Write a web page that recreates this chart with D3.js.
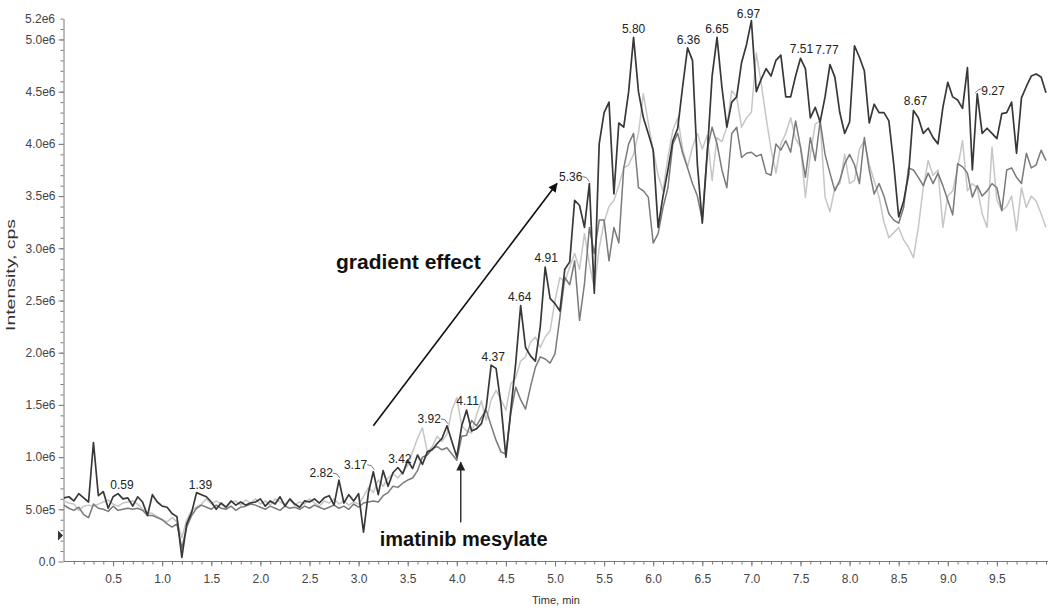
<!DOCTYPE html>
<html>
<head>
<meta charset="utf-8">
<script src="https://cdn.jsdelivr.net/npm/d3@7"></script>
<style>
  body { margin: 0; background: #fff; }
  svg { display: block; font-family: "Liberation Sans", Arial, sans-serif; }
</style>
</head>
<body>
<svg id="chart" width="1050" height="610"></svg>
<script>
// retention time, min
const times = [
  0.00,0.05,0.10,0.15,0.20,0.25,0.30,0.35,0.40,0.45,0.50,0.55,0.60,0.65,0.70,0.75,0.80,0.85,0.90,0.95,
  1.00,1.05,1.10,1.15,1.20,1.25,1.30,1.35,1.40,1.45,1.50,1.55,1.60,1.65,1.70,1.75,1.80,1.85,1.90,1.95,
  2.00,2.05,2.10,2.15,2.20,2.25,2.30,2.35,2.40,2.45,2.50,2.55,2.60,2.65,2.70,2.75,2.80,2.85,2.90,2.95,
  3.00,3.05,3.10,3.15,3.20,3.25,3.30,3.35,3.40,3.45,3.50,3.55,3.60,3.65,3.70,3.75,3.80,3.85,3.90,3.95,
  4.00,4.05,4.10,4.15,4.20,4.25,4.30,4.35,4.40,4.45,4.50,4.55,4.60,4.65,4.70,4.75,4.80,4.85,4.90,4.95,
  5.00,5.05,5.10,5.15,5.20,5.25,5.30,5.35,5.40,5.45,5.50,5.55,5.60,5.65,5.70,5.75,5.80,5.85,5.90,5.95,
  6.00,6.05,6.10,6.15,6.20,6.25,6.30,6.35,6.40,6.45,6.50,6.55,6.60,6.65,6.70,6.75,6.80,6.85,6.90,6.95,
  7.00,7.05,7.10,7.15,7.20,7.25,7.30,7.35,7.40,7.45,7.50,7.55,7.60,7.65,7.70,7.75,7.80,7.85,7.90,7.95,
  8.00,8.05,8.10,8.15,8.20,8.25,8.30,8.35,8.40,8.45,8.50,8.55,8.60,8.65,8.70,8.75,8.80,8.85,8.90,8.95,
  9.00,9.05,9.10,9.15,9.20,9.25,9.30,9.35,9.40,9.45,9.50,9.55,9.60,9.65,9.70,9.75,9.80,9.85,9.90,9.95,
  10.00
];

// intensities in units of 1e6 cps
const darkTrace = [
  0.61,0.62,0.58,0.65,0.61,0.57,1.14,0.63,0.67,0.51,0.62,0.65,0.60,0.61,0.53,0.62,0.57,0.44,0.64,0.57,
  0.53,0.52,0.46,0.43,0.04,0.36,0.47,0.66,0.64,0.62,0.57,0.50,0.56,0.52,0.58,0.54,0.57,0.54,0.56,0.57,
  0.60,0.53,0.58,0.55,0.62,0.53,0.60,0.55,0.52,0.58,0.57,0.60,0.56,0.61,0.63,0.54,0.78,0.56,0.64,0.58,
  0.65,0.28,0.66,0.86,0.64,0.87,0.72,0.85,0.90,0.84,0.97,0.89,1.02,0.93,1.05,1.07,1.13,1.18,1.30,1.15,
  1.00,1.30,1.45,1.25,1.27,1.32,1.48,1.88,1.85,1.50,1.00,1.45,1.90,2.45,2.05,1.97,1.92,2.25,2.82,2.52,
  2.47,2.40,2.80,2.87,3.46,3.41,3.20,3.62,2.57,4.00,4.30,4.40,3.52,4.20,4.16,4.50,5.02,4.50,4.25,4.10,
  3.94,3.20,3.50,3.75,4.03,4.15,4.55,4.92,4.80,3.80,3.24,3.90,4.65,5.02,4.54,4.16,4.40,4.45,4.78,4.95,
  5.18,4.50,4.62,4.72,4.65,4.80,4.85,4.45,4.45,4.65,4.82,4.72,4.25,4.35,4.21,4.45,4.76,4.64,4.30,4.10,
  4.21,4.94,4.83,4.70,4.20,4.38,4.30,4.30,4.22,3.80,3.30,3.45,3.70,4.32,4.25,4.10,4.15,4.06,4.00,4.35,
  4.59,4.45,4.42,4.34,4.73,3.75,4.48,4.10,4.15,4.10,4.05,4.29,4.30,4.40,3.91,4.44,4.55,4.65,4.67,4.64,
  4.49
];
const midTrace = [
  0.54,0.51,0.49,0.52,0.45,0.42,0.55,0.51,0.50,0.48,0.53,0.49,0.50,0.51,0.50,0.51,0.49,0.44,0.44,0.42,
  0.40,0.36,0.33,0.36,0.13,0.33,0.44,0.51,0.54,0.52,0.50,0.54,0.51,0.50,0.53,0.49,0.52,0.53,0.55,0.54,
  0.52,0.50,0.53,0.51,0.49,0.53,0.51,0.52,0.50,0.53,0.51,0.54,0.52,0.50,0.52,0.54,0.51,0.53,0.50,0.55,
  0.52,0.56,0.57,0.58,0.57,0.63,0.66,0.72,0.71,0.75,0.78,0.80,0.87,1.00,1.02,1.08,1.10,1.07,1.09,1.03,
  0.97,1.20,1.21,1.35,1.30,1.38,1.45,1.30,1.16,1.05,1.03,1.42,1.67,1.55,1.46,1.67,1.86,1.96,1.94,1.90,
  1.99,2.34,2.72,2.65,2.88,2.31,2.66,3.20,2.95,3.27,3.27,2.88,3.20,3.05,3.77,4.00,4.10,3.58,3.55,3.49,
  3.05,3.14,3.39,3.58,4.00,4.10,3.91,3.77,3.62,3.50,3.27,3.94,4.16,4.00,3.75,3.58,4.10,4.16,3.87,3.91,
  3.92,3.88,3.90,3.72,3.70,4.00,3.94,4.03,3.92,4.22,3.97,3.68,4.06,3.84,4.22,3.90,3.72,3.55,3.65,3.81,
  3.90,3.80,3.62,4.06,3.75,3.52,3.62,3.50,3.33,3.27,3.24,3.39,3.77,3.75,3.68,3.60,3.72,3.62,3.72,3.60,
  3.46,3.32,3.81,3.78,3.72,3.49,3.60,3.50,3.55,3.62,3.58,3.36,3.75,3.77,3.68,3.62,3.91,3.77,3.80,3.94,
  3.84
];
const lightTrace = [
  0.58,0.56,0.55,0.49,0.53,0.54,0.53,0.55,0.57,0.59,0.55,0.53,0.56,0.57,0.58,0.55,0.50,0.47,0.46,0.43,
  0.40,0.38,0.42,0.38,0.23,0.40,0.49,0.52,0.55,0.60,0.55,0.58,0.55,0.51,0.57,0.58,0.54,0.59,0.56,0.60,
  0.55,0.58,0.54,0.60,0.57,0.55,0.59,0.54,0.57,0.55,0.60,0.56,0.53,0.58,0.56,0.60,0.55,0.58,0.54,0.57,
  0.55,0.62,0.71,0.66,0.78,0.72,0.80,0.84,0.80,0.86,0.92,1.05,1.18,1.28,1.05,1.10,1.20,1.15,1.22,1.45,
  1.57,1.30,1.25,1.23,1.40,1.54,1.35,1.55,1.64,1.55,1.45,1.70,1.76,1.92,1.96,2.10,2.15,2.05,2.15,2.21,
  2.50,2.72,2.68,2.82,2.95,2.80,3.14,2.85,2.62,3.00,3.25,3.40,3.46,3.60,3.77,3.80,3.90,4.10,4.48,4.20,
  3.94,3.70,3.55,3.87,4.13,4.25,3.95,3.78,3.97,4.10,3.95,4.08,3.65,4.06,4.02,4.16,4.51,4.45,4.16,4.25,
  4.30,4.87,4.58,4.25,3.95,3.72,4.00,4.10,4.25,4.05,3.97,3.49,3.90,4.19,4.22,3.49,3.35,3.58,3.62,3.90,
  3.62,3.65,3.95,4.03,3.80,3.65,3.49,3.25,3.10,3.15,3.20,3.08,3.01,2.91,3.20,3.58,3.84,3.70,3.75,3.20,
  3.50,3.55,3.77,4.03,3.55,3.62,3.58,3.33,3.20,3.97,3.46,3.36,3.40,3.50,3.17,3.58,3.39,3.50,3.45,3.33,
  3.20
];

// labelled peaks of the dark trace
const peakTimes  = [0.59, 1.39, 2.82, 3.17, 3.42, 3.92, 4.11, 4.37, 4.64, 4.91, 5.36, 5.80, 6.36, 6.65, 6.97, 7.51, 7.77, 8.67, 9.27];
const peakLevels = [0.65, 0.65, 0.78, 0.86, 0.90, 1.30, 1.45, 1.87, 2.45, 2.82, 3.62, 5.01, 4.91, 5.01, 5.16, 4.82, 4.81, 4.32, 4.48];
const leftLeader  = [2.82, 3.17, 3.92, 5.36];
const rightLeader = [9.27];

const xTicks = [0.5, 1.0, 1.5, 2.0, 2.5, 3.0, 3.5, 4.0, 4.5, 5.0, 5.5, 6.0, 6.5, 7.0, 7.5, 8.0, 8.5, 9.0, 9.5];
const xTickLabels = ["0.5","1.0","1.5","2.0","2.5","3.0","3.5","4.0","4.5","5.0","5.5","6.0","6.5","7.0","7.5","8.0","8.5","9.0","9.5"];
const yTicks = [0, 0.5, 1.0, 1.5, 2.0, 2.5, 3.0, 3.5, 4.0, 4.5, 5.0];
const yTickLabels = ["0.0","5.0e5","1.0e6","1.5e6","2.0e6","2.5e6","3.0e6","3.5e6","4.0e6","4.5e6","5.0e6"];
const yTopLabel = "5.2e6";

const svg = d3.select("#chart");
const x = d3.scaleLinear().domain([0, 10]).range([64, 1046]);
const y = d3.scaleLinear().domain([0, 5.2]).range([561.5, 18.6]);

const axisColor = "#7a7a7a";
const labelColor = "#444";

function styleAxis(g) {
  g.select(".domain").attr("stroke", axisColor);
  g.selectAll(".tick line").attr("stroke", axisColor);
  g.selectAll(".tick text").attr("fill", labelColor).style("font-size", "12px");
}

// minor ticks
svg.append("g")
  .attr("transform", "translate(0,561.5)")
  .call(d3.axisBottom(x).tickValues(d3.range(1, 101).map(i => i / 10)).tickSize(3).tickFormat(""))
  .call(g => g.select(".domain").remove())
  .call(g => g.selectAll(".tick line").attr("stroke", axisColor));
svg.append("g")
  .attr("transform", "translate(63.5,0)")
  .call(d3.axisLeft(y).tickValues(d3.range(1, 53).map(i => i / 10)).tickSize(3).tickFormat(""))
  .call(g => g.select(".domain").remove())
  .call(g => g.selectAll(".tick line").attr("stroke", axisColor));

// major axes
svg.append("g")
  .attr("transform", "translate(0,561.5)")
  .call(d3.axisBottom(x).tickValues(xTicks).tickFormat((d, i) => xTickLabels[i]).tickSize(5).tickSizeOuter(0).tickPadding(8))
  .call(g => g.select(".domain").attr("d", "M64,0H1048"))
  .call(styleAxis);

svg.append("g")
  .attr("transform", "translate(63.5,0)")
  .call(d3.axisLeft(y).tickValues(yTicks).tickFormat((d, i) => yTickLabels[i]).tickSize(5).tickSizeOuter(0).tickPadding(3))
  .call(styleAxis);

svg.append("text")
  .attr("x", 55).attr("y", y(5.2) + 4)
  .attr("text-anchor", "end")
  .attr("fill", labelColor)
  .style("font-size", "12px")
  .text(yTopLabel);

svg.append("text")
  .attr("x", 532).attr("y", 604)
  .attr("fill", "#333")
  .style("font-size", "11px")
  .text("Time, min");

svg.append("text")
  .attr("transform", "translate(15,275) rotate(-90)")
  .attr("text-anchor", "middle")
  .attr("fill", "#333")
  .attr("textLength", 112)
  .attr("lengthAdjust", "spacingAndGlyphs")
  .style("font-size", "12px")
  .text("Intensity, cps");

// start marker on y axis
svg.append("path")
  .attr("d", `M58,${y(0.25) - 5}L63,${y(0.25)}L58,${y(0.25) + 5}Z`)
  .attr("fill", "#333");

// traces
const line = d3.line().x(d => x(d[0])).y(d => y(d[1]));
const traces = [
  { values: lightTrace, color: "#c6c6c6", width: 1.5 },
  { values: midTrace, color: "#7a7a7a", width: 1.5 },
  { values: darkTrace, color: "#383838", width: 1.7 }
];
traces.forEach(tr => {
  svg.append("path")
    .datum(times.map((t, i) => [t, tr.values[i]]))
    .attr("fill", "none")
    .attr("stroke", tr.color)
    .attr("stroke-width", tr.width)
    .attr("stroke-linejoin", "round")
    .attr("d", line);
});

// peak labels
const fmt = d3.format(".2f");
peakTimes.forEach((t, i) => {
  const px = x(t), py = y(peakLevels[i]);
  const lbl = svg.append("text")
    .attr("fill", "#222")
    .style("font-size", "12px")
    .text(fmt(t));
  if (leftLeader.includes(t)) {
    lbl.attr("x", px - 8).attr("y", py - 3).attr("text-anchor", "end");
    svg.append("path")
      .attr("d", `M${px - 8},${py - 7}L${px - 4},${py - 6}L${px - 1},${py - 2}`)
      .attr("fill", "none").attr("stroke", "#555").attr("stroke-width", 0.8);
  } else if (rightLeader.includes(t)) {
    lbl.attr("x", px + 7).attr("y", py + 1).attr("text-anchor", "start");
    svg.append("path")
      .attr("d", `M${px + 1},${py - 1}L${px + 4},${py - 4}L${px + 7},${py - 5}`)
      .attr("fill", "none").attr("stroke", "#555").attr("stroke-width", 0.8);
  } else {
    lbl.attr("x", px).attr("y", py - 5).attr("text-anchor", "middle");
  }
});

// annotations
const defs = svg.append("defs");
defs.append("marker")
  .attr("id", "head")
  .attr("viewBox", "0 0 10 10")
  .attr("refX", 9).attr("refY", 5)
  .attr("markerWidth", 11).attr("markerHeight", 9)
  .attr("markerUnits", "userSpaceOnUse")
  .attr("orient", "auto")
  .append("path").attr("d", "M0,0L10,5L0,10Z").attr("fill", "#111");

svg.append("line")
  .attr("x1", x(3.15)).attr("y1", y(1.30))
  .attr("x2", x(5.02)).attr("y2", y(3.62))
  .attr("stroke", "#111").attr("stroke-width", 1.6)
  .attr("marker-end", "url(#head)");

svg.append("text")
  .attr("x", x(2.77)).attr("y", y(2.80))
  .attr("fill", "#111")
  .style("font-size", "21px").style("font-weight", "bold")
  .text("gradient effect");

defs.append("marker")
  .attr("id", "headUp")
  .attr("viewBox", "0 0 10 10")
  .attr("refX", 9).attr("refY", 5)
  .attr("markerWidth", 10).attr("markerHeight", 9)
  .attr("markerUnits", "userSpaceOnUse")
  .attr("orient", "auto")
  .append("path").attr("d", "M0,0L10,5L0,10Z").attr("fill", "#222");

svg.append("line")
  .attr("x1", x(4.04)).attr("y1", y(0.375))
  .attr("x2", x(4.04)).attr("y2", y(0.95))
  .attr("stroke", "#333").attr("stroke-width", 1.5)
  .attr("marker-end", "url(#headUp)");

svg.append("text")
  .attr("x", x(4.07)).attr("y", y(0.145))
  .attr("text-anchor", "middle")
  .attr("fill", "#111")
  .style("font-size", "20px").style("font-weight", "bold")
  .text("imatinib mesylate");
</script>
</body>
</html>
